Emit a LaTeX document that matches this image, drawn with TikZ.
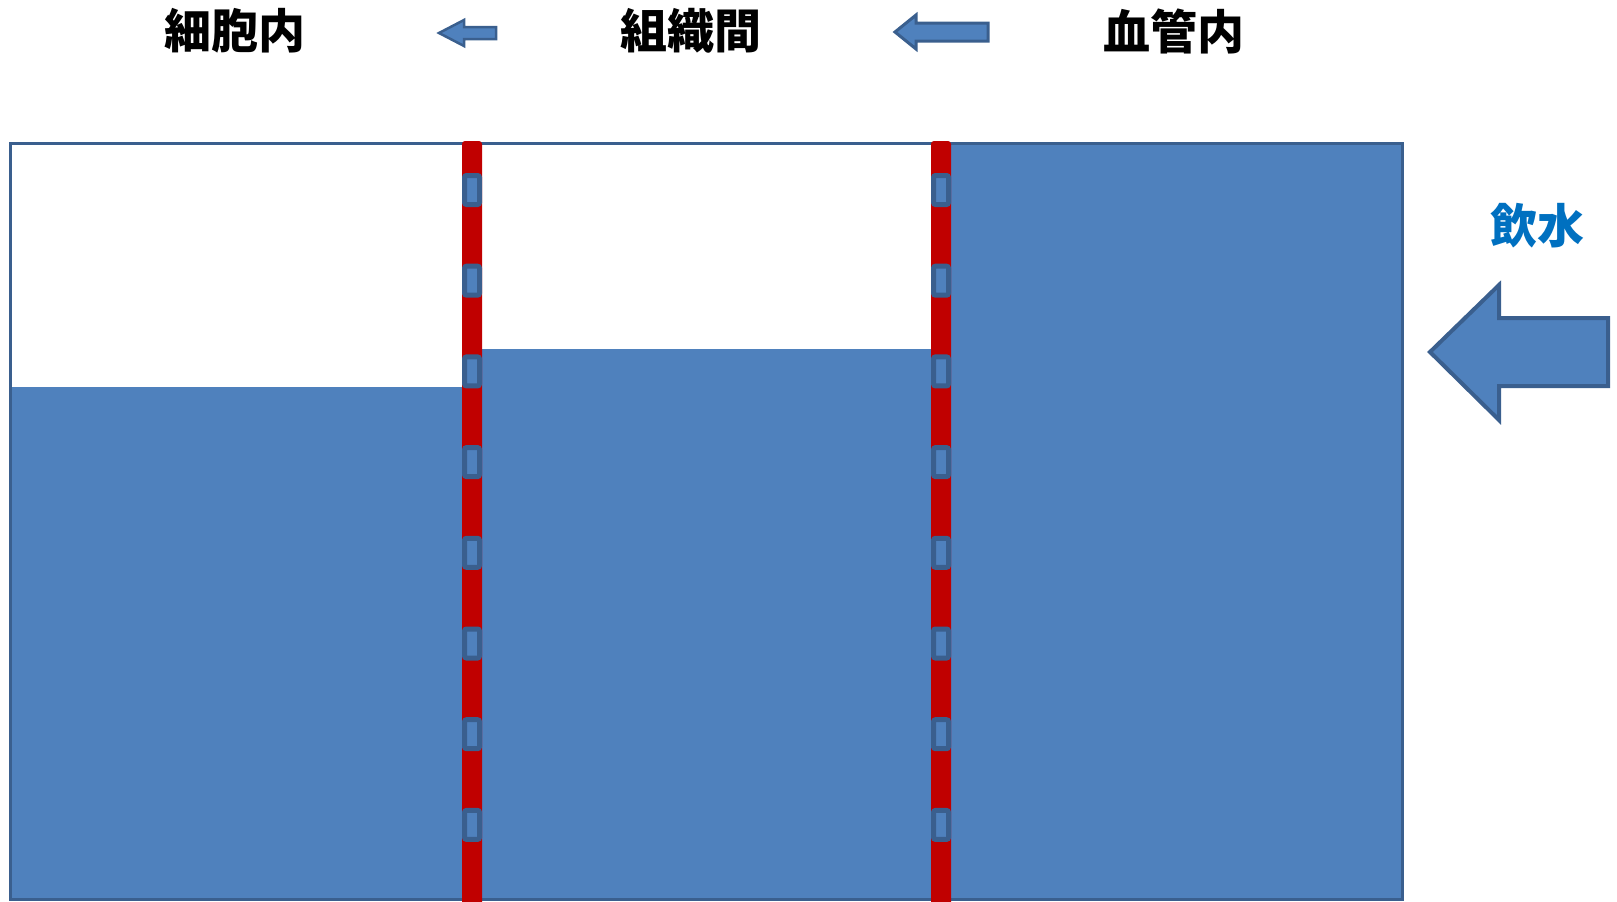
\documentclass[tikz,border=0pt]{standalone}
\usepackage{fontspec}
\newfontfamily\cjk{Noto Sans CJK JP}
\definecolor{fillblue}{HTML}{4F81BD}
\definecolor{edgeblue}{HTML}{3A5F8E}
\definecolor{memred}{HTML}{C00000}
\definecolor{drinkblue}{HTML}{0070C0}
\tikzset{
  titletext/.style={font=\cjk\bfseries\fontsize{47}{50}\selectfont, text=black, inner sep=0pt},
  drinktext/.style={font=\cjk\bfseries\fontsize{47}{50}\selectfont, text=drinkblue, inner sep=0pt},
  arrowshape/.style={fill=fillblue, draw=edgeblue, line join=miter},
  channel/.style={draw=edgeblue, fill=fillblue, line width=5pt, rounded corners=2pt},
}
\begin{document}
\begin{tikzpicture}[x=1pt,y=-1pt]
\useasboundingbox (0,0) rectangle (1617,902);
% water
\fill[fillblue] (10,387) rectangle (462,899);
\fill[fillblue] (482,349) rectangle (931,899);
\fill[fillblue] (951,143) rectangle (1402,899);
\draw[edgeblue, line width=3pt] (10,143) rectangle (1402,899);
% membranes
\foreach \m in {472,941}{
  \fill[memred, rounded corners=3pt] (\m-10,141) rectangle (\m+10,906);
  \foreach \yc in {190,280.7,371.4,462.1,552.8,643.5,734.2,824.9}{
    \draw[channel] (\m-7.5,\yc-14.5) rectangle (\m+7.5,\yc+14.5);
  }
}
% titles
\node[titletext] (cell) at (235,31) {細胞内};
\node[titletext] (inter) at (691,31) {組織間};
\node[titletext] (vessel) at (1174,31) {血管内};
\node[drinktext] (drink) at (1537,226) {飲水};
% small arrows
\draw[arrowshape, line width=2.5pt] (439,33) -- (464,20) -- (464,27) -- (496,27) -- (496,39) -- (464,39) -- (464,46) -- cycle;
\draw[arrowshape, line width=3pt] (895,32) -- (916,15) -- (916,23) -- (988,23) -- (988,41) -- (916,41) -- (916,49) -- cycle;
% big arrow
\draw[arrowshape, line width=4pt] (1430,352) -- (1499,285) -- (1499,318) -- (1608,318) -- (1608,386) -- (1499,386) -- (1499,420) -- cycle;
\end{tikzpicture}
\end{document}
